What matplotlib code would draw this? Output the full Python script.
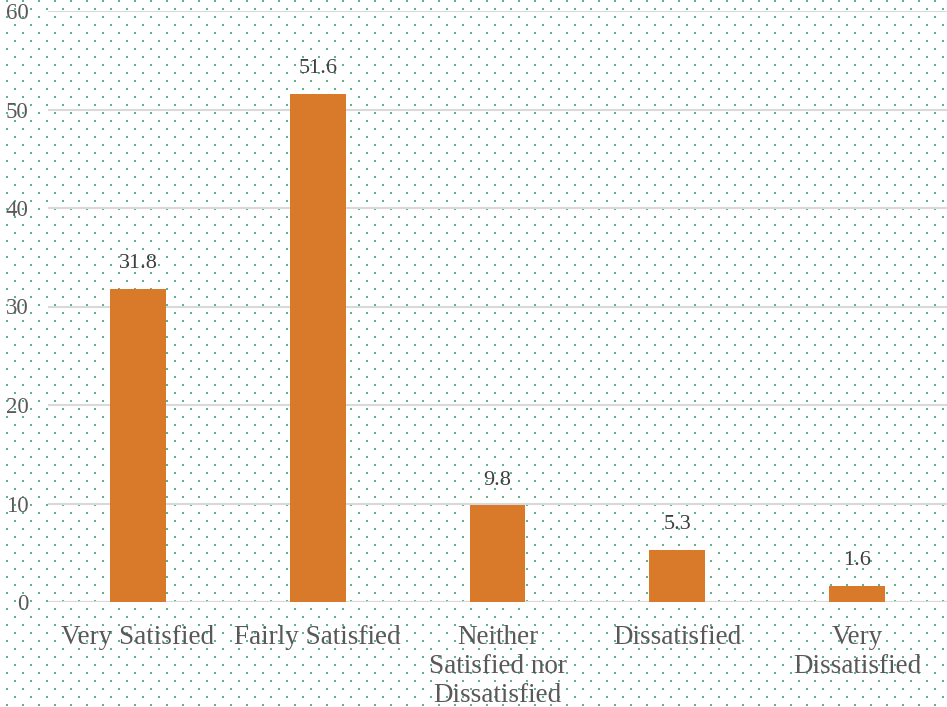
import numpy as np
import matplotlib.pyplot as plt

categories = ["Very Satisfied", "Fairly Satisfied", "Neither\nSatisfied nor\nDissatisfied",
              "Dissatisfied", "Very\nDissatisfied"]
values = [31.8, 51.6, 9.8, 5.3, 1.6]
yticks = [0, 10, 20, 30, 40, 50, 60]

plt.rcParams['font.family'] = ['Liberation Serif', 'DejaVu Serif']

W, H = 947, 707
fig = plt.figure(figsize=(W / 100, H / 100), dpi=100)

# dotted background pattern
bg = fig.add_axes([0, 0, 1, 1], zorder=0)
bg.set_xlim(0, W)
bg.set_ylim(H, 0)
bg.axis("off")
xs, ys = [], []
for i, y in enumerate(np.arange(1, H + 8, 8)):
    off = 7 if i % 2 == 0 else 15
    for x in np.arange(off, W + 16, 16):
        xs.append(x)
        ys.append(y)
bg.scatter(xs, ys, s=4.5, color="#5fb48e", marker="s", linewidths=0)

ax = fig.add_axes([48 / W, (H - 602) / H, 1 - 48 / W, (602 - 11) / H], zorder=1)
ax.patch.set_visible(False)
x = np.arange(len(categories))
bars = ax.bar(x, values, width=0.31, color="#d87a29", zorder=3)
for xi, v in zip(x, values):
    ax.text(xi, v + 1.6, f"{v}", ha="center", va="bottom", fontsize=16, color="#404040")

ax.set_ylim(0, 60)
ax.set_xlim(-0.5, len(categories) - 0.5)
ax.set_yticks(yticks)
ax.yaxis.grid(True, color="#d9d9d9", linewidth=1.5, zorder=0)
ax.set_axisbelow(True)
for s in ax.spines.values():
    s.set_visible(False)
ax.axhline(0, color="#d9d9d9", linewidth=1.5, zorder=2)
ax.tick_params(axis="both", length=0)
ax.tick_params(axis="y", labelsize=16.5, labelcolor="#595959", pad=14)
ax.set_xticks(x)
ax.set_xticklabels(categories, fontsize=19.5, color="#595959", linespacing=1.2)
ax.tick_params(axis="x", pad=16.5)

fig.savefig("out.png", dpi=100)
